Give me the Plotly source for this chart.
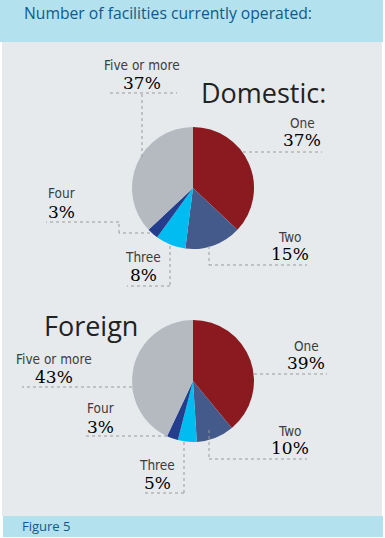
import plotly.graph_objects as go

# ---- data ----
categories = ["One", "Two", "Three", "Four", "Five or more"]
domestic = [37, 15, 8, 3, 37]
foreign = [39, 10, 5, 3, 43]
slice_colors = ["#8a1a1f", "#435a8b", "#00bcf0", "#243d8d", "#b5bac1"]
title_text = "Number of facilities currently operated:"
figure_label = "Figure 5"

W, H = 385, 538


def px(x):
    return x / W


def py(y):
    return 1 - y / H


def pie_domain(cx, cy, r):
    return dict(x=[px(cx - r), px(cx + r)], y=[py(cy + r), py(cy - r)])


fig = go.Figure()
for vals, (cx, cy) in [(domestic, (193, 188)), (foreign, (193, 381))]:
    fig.add_trace(go.Pie(
        labels=categories, values=vals, sort=False, direction="clockwise",
        rotation=0, textinfo="none", hoverinfo="label+percent",
        marker=dict(colors=slice_colors, line=dict(width=0)),
        domain=pie_domain(cx, cy, 61), showlegend=False,
    ))

shapes = []
# background panels
shapes.append(dict(type="rect", xref="paper", yref="paper", x0=px(0), x1=px(383),
                   y0=py(42), y1=py(0), fillcolor="#b3e1ee", line=dict(width=0), layer="below"))
shapes.append(dict(type="rect", xref="paper", yref="paper", x0=px(2), x1=px(382),
                   y0=py(516), y1=py(42), fillcolor="#e7eaed", line=dict(width=0), layer="below"))
shapes.append(dict(type="rect", xref="paper", yref="paper", x0=px(3), x1=px(383),
                   y0=py(537), y1=py(516), fillcolor="#b3e1ee", line=dict(width=0), layer="below"))


def leader(points):
    for (x0, y0), (x1, y1) in zip(points[:-1], points[1:]):
        shapes.append(dict(type="line", xref="paper", yref="paper",
                           x0=px(x0), y0=py(y0), x1=px(x1), y1=py(y1),
                           line=dict(color="#9a9a9a", width=1, dash="dot")))


# leader line paths (layout)
dom_leaders = [
    [(243, 152), (322, 152)],
    [(209, 246), (209, 265), (307, 265)],
    [(170, 246), (170, 286), (127, 286)],
    [(150, 233), (119, 233), (119, 222), (46, 222)],
    [(142, 157), (142, 93)],
    [(110, 93), (177, 93)],
]
for p in dom_leaders:
    leader(p)

for_leaders = [
    [(254, 374), (327, 374)],
    [(209, 430), (209, 459), (307, 459)],
    [(184, 442), (184, 493), (142, 493)],
    [(167, 436), (85, 436)],
    [(132, 387), (22, 387)],
]
for p in for_leaders:
    leader(p)

annotations = []
LABEL_FONT = dict(family="DejaVu Sans Condensed, Liberation Sans Narrow, Liberation Sans",
                  size=13.5, color="#3d3d3d")
PCT_FONT = dict(family="DejaVu Serif, Liberation Serif", size=17, color="#000000")


def ann(text, x, y, font, xanchor="center"):
    annotations.append(dict(text=text, x=px(x), y=py(y), xref="paper", yref="paper",
                            showarrow=False, xanchor=xanchor, yanchor="middle", font=font))


# label positions: (x, label_y, pct_y, anchor)
dom_pos = [(302, 123, 140, "center"), (290, 237, 254, "center"), (143, 257, 275, "center"),
           (46, 193, 212, "left"), (142, 65, 83, "center")]
for_pos = [(306, 346, 363, "center"), (290, 431, 448, "center"), (157, 465, 483, "center"),
           (85, 408, 427, "left"), (54, 359, 377, "center")]

for vals, pos in [(domestic, dom_pos), (foreign, for_pos)]:
    for cat, v, (x, ly, pyy, anc) in zip(categories, vals, pos):
        ann(cat, x, ly, LABEL_FONT, anc)
        ann(f"{v}%", x, pyy, PCT_FONT, anc)

BIG_FONT = dict(family="Open Sans, Noto Sans", size=27, color="#222222")
ann("Domestic:", 263, 92, BIG_FONT)
ann("Foreign", 91, 325, BIG_FONT)

ann(title_text, 22, 13, dict(family="Open Sans, Lato", size=15.7, color="#10598a"), "left")
ann(figure_label, 20, 526, dict(family="Open Sans, Lato", size=13, color="#10598a"), "left")

fig.update_layout(
    width=W, height=H, margin=dict(l=0, r=0, t=0, b=0),
    paper_bgcolor="white", plot_bgcolor="white",
    shapes=shapes, annotations=annotations, showlegend=False,
)

fig.write_html("out.html", config={"displayModeBar": False},
               post_script="document.body.style.margin='0';document.body.style.overflow='hidden';")
